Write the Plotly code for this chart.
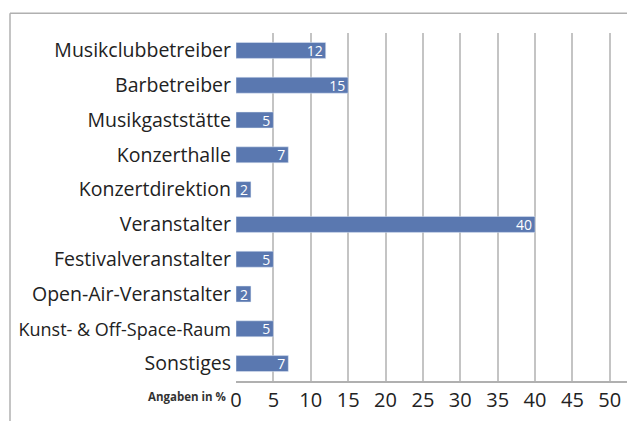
import plotly.graph_objects as go

categories = ["Musikclubbetreiber", "Barbetreiber", "Musikgaststätte", "Konzerthalle",
              "Konzertdirektion", "Veranstalter", "Festivalveranstalter",
              "Open-Air-Veranstalter", "Kunst- & Off-Space-Raum", "Sonstiges"]
values = [12, 15, 5, 7, 2, 40, 5, 2, 5, 7]
tick_vals = [0, 5, 10, 15, 20, 25, 30, 35, 40, 45, 50]

FONT = "Open Sans"

# the longest label is set a touch smaller so it fits inside the frame
cat_text = [c if len(c) < 22 else f"<span style='font-size:18px'>{c}</span>" for c in categories]

fig = go.Figure(go.Bar(
    y=categories,
    x=values,
    orientation="h",
    marker_color="#5a78b0",
    text=[str(v) for v in values],
    textposition="inside",
    insidetextanchor="end",
    textangle=0,
    constraintext="none",
    textfont=dict(color="white", size=14, family=FONT),
))

fig.update_layout(
    width=627, height=421,
    margin=dict(l=236, r=0, t=33, b=40),
    paper_bgcolor="white", plot_bgcolor="white",
    bargap=0.54,
    showlegend=False,
    font=dict(family=FONT, color="#222222"),
    xaxis=dict(
        range=[0, 52.3], tickvals=tick_vals, showgrid=True, automargin=False,
        gridcolor="#c4c4c4", gridwidth=1.5, zeroline=False,
        showline=True, linecolor="#b0b0b0", linewidth=1.5,
        ticks="", ticklabeloverflow="allow",
        tickfont=dict(size=20, color="#222222"),
    ),
    yaxis=dict(
        autorange="reversed", showgrid=False, zeroline=False, automargin=False,
        tickmode="array", tickvals=categories, ticktext=cat_text,
        ticks="", ticklabelstandoff=4, tickfont=dict(size=19.5, color="#222222"),
    ),
    annotations=[dict(
        text="<b>Angaben in %</b>", x=-0.02, y=-0.045, xref="paper", yref="paper",
        xanchor="right", yanchor="middle", showarrow=False,
        font=dict(size=11.5, color="#333333", family=FONT),
    )],
    shapes=[
        dict(type="line", xref="paper", yref="paper", x0=-0.578, x1=1.0, y0=1.057, y1=1.057,
             line=dict(color="#b0b0b0", width=1.5)),
        dict(type="line", xref="paper", yref="paper", x0=-0.578, x1=-0.578, y0=1.057, y1=-0.2,
             line=dict(color="#b0b0b0", width=1.5)),
    ],
)

# page body has a default 8px margin; drop it so the figure sits at the corner
fig.write_html("out.html", config={"displayModeBar": False},
               post_script="document.body.style.margin='0';")
